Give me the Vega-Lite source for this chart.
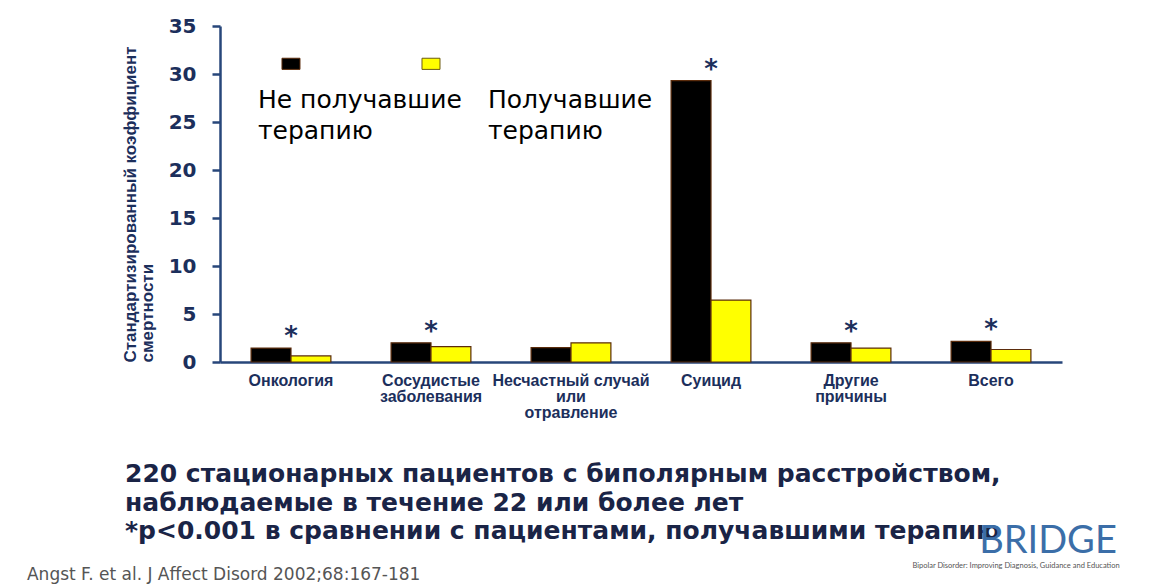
{
  "$schema": "https://vega.github.io/schema/vega-lite/v6.json",
  "width": 842,
  "height": 336,
  "autosize": {"type": "none"},
  "padding": {"left": 220, "top": 26, "right": 114, "bottom": 222},
  "background": "white",
  "config": {"view": {"stroke": null}},
  "datasets": {
    "bars": [
      {"category": "Онкология", "group": "Не получавшие терапию", "value": 1.45, "sig": true},
      {"category": "Онкология", "group": "Получавшие терапию", "value": 0.63, "sig": true},
      {"category": "Сосудистые заболевания", "group": "Не получавшие терапию", "value": 2.0, "sig": true},
      {"category": "Сосудистые заболевания", "group": "Получавшие терапию", "value": 1.6, "sig": true},
      {"category": "Несчастный случай или отравление", "group": "Не получавшие терапию", "value": 1.5, "sig": false},
      {"category": "Несчастный случай или отравление", "group": "Получавшие терапию", "value": 2.0, "sig": false},
      {"category": "Суицид", "group": "Не получавшие терапию", "value": 29.3, "sig": true},
      {"category": "Суицид", "group": "Получавшие терапию", "value": 6.45, "sig": true},
      {"category": "Другие причины", "group": "Не получавшие терапию", "value": 2.0, "sig": true},
      {"category": "Другие причины", "group": "Получавшие терапию", "value": 1.45, "sig": true},
      {"category": "Всего", "group": "Не получавшие терапию", "value": 2.15, "sig": true},
      {"category": "Всего", "group": "Получавшие терапию", "value": 1.3, "sig": true}
    ],
    "legend": [
      {"group": "Не получавшие терапию", "label": "Не получавшие\nтерапию"},
      {"group": "Получавшие терапию", "label": "Получавшие\nтерапию"}
    ],
    "notes": [
      {"note": "220 стационарных пациентов с биполярным расстройством,\nнаблюдаемые в течение 22 или более лет\n*p<0.001 в сравнении с пациентами, получавшими терапию"}
    ],
    "one": [{"row": 1}]
  },
  "data": {"name": "bars"},
  "layer": [
    {
      "mark": {"type": "bar", "stroke": "#5b2c0c", "strokeWidth": 1.2},
      "encoding": {
        "x": {
          "field": "category", "type": "nominal", "sort": null,
          "scale": {"paddingInner": 0.43, "paddingOuter": 0.222, "align": 0.5},
          "axis": {
            "title": null,
            "labelAngle": 0, "labelFont": "Liberation Sans", "labelFontSize": 16, "labelFontWeight": "bold",
            "labelColor": "#1c2f5c", "labelPadding": 10, "labelLineHeight": 16, "ticks": false,
            "labelLimit": 0, "labelOverlap": false,
            "domainColor": "#27467a", "domainWidth": 2.5,
            "labelExpr": "datum.label == 'Сосудистые заболевания' ? ['Сосудистые', 'заболевания'] : datum.label == 'Несчастный случай или отравление' ? ['Несчастный случай', 'или', 'отравление'] : datum.label == 'Другие причины' ? ['Другие', 'причины'] : datum.label"
          }
        },
        "xOffset": {"field": "group", "type": "nominal", "sort": null, "scale": {"paddingInner": 0, "paddingOuter": 0}},
        "y": {
          "field": "value", "type": "quantitative",
          "scale": {"domain": [0, 35], "nice": false},
          "axis": {
            "title": ["Стандартизированный коэффициент", "смертности"],
            "titleFont": "Liberation Sans", "titleFontSize": 17, "titleFontWeight": "bold", "titleColor": "#1c2f5c",
            "titleAnchor": "start", "titlePadding": 12, "titleLineHeight": 17,
            "values": [0, 5, 10, 15, 20, 25, 30, 35], "grid": false,
            "labelFont": "DejaVu Sans", "labelFontSize": 20, "labelFontWeight": "bold", "labelColor": "#1c2f5c",
            "labelPadding": 16, "tickSize": 8, "tickColor": "#27467a", "tickWidth": 2.5,
            "domainColor": "#27467a", "domainWidth": 2.5
          }
        },
        "color": {
          "field": "group", "type": "nominal",
          "scale": {"domain": ["Не получавшие терапию", "Получавшие терапию"], "range": ["#000000", "#ffff00"]},
          "legend": null
        }
      }
    },
    {
      "transform": [{"filter": "datum.sig && datum.group == 'Не получавшие терапию'"}],
      "mark": {"type": "text", "text": "*", "font": "DejaVu Sans", "fontSize": 26, "fontWeight": "bold", "color": "#1c2f5c", "baseline": "alphabetic", "dy": -3},
      "encoding": {
        "x": {"field": "category", "type": "nominal", "sort": null},
        "y": {"field": "value", "type": "quantitative"}
      }
    },
    {
      "data": {"name": "legend"},
      "transform": [{"filter": "datum.group == 'Не получавшие терапию'"}],
      "mark": {"type": "point", "shape": "M-1,-0.62H1V0.62H-1Z", "filled": true, "size": 324, "opacity": 1, "stroke": "#5b2c0c", "strokeWidth": 1, "dx": 1},
      "encoding": {
        "x": {"datum": "Онкология"},
        "y": {"datum": 31.06},
        "color": {"field": "group", "type": "nominal"}
      }
    },
    {
      "data": {"name": "legend"},
      "transform": [{"filter": "datum.group == 'Получавшие терапию'"}],
      "mark": {"type": "point", "shape": "M-1,-0.62H1V0.62H-1Z", "filled": true, "size": 324, "opacity": 1, "stroke": "#6b5a10", "strokeWidth": 1, "dx": 64},
      "encoding": {
        "x": {"datum": "Сосудистые заболевания"},
        "y": {"datum": 31.06},
        "color": {"field": "group", "type": "nominal"}
      }
    },
    {
      "data": {"name": "legend"},
      "transform": [{"filter": "datum.group == 'Не получавшие терапию'"}],
      "mark": {"type": "text", "font": "DejaVu Sans", "fontSize": 25, "color": "#000000", "align": "left", "baseline": "alphabetic", "lineBreak": "\n", "lineHeight": 31, "dx": -33},
      "encoding": {
        "x": {"datum": "Онкология"},
        "y": {"datum": 26.43},
        "text": {"field": "label"}
      }
    },
    {
      "data": {"name": "legend"},
      "transform": [{"filter": "datum.group == 'Получавшие терапию'"}],
      "mark": {"type": "text", "font": "DejaVu Sans", "fontSize": 25, "color": "#000000", "align": "left", "baseline": "alphabetic", "lineBreak": "\n", "lineHeight": 31, "dx": 57},
      "encoding": {
        "x": {"datum": "Сосудистые заболевания"},
        "y": {"datum": 26.43},
        "text": {"field": "label"}
      }
    },
    {
      "data": {"name": "notes"},
      "mark": {"type": "text", "font": "DejaVu Sans", "fontSize": 25, "fontWeight": "bold", "color": "#1a2446", "align": "left", "baseline": "alphabetic", "lineBreak": "\n", "lineHeight": 28.5, "dx": -166},
      "encoding": {
        "x": {"datum": "Онкология"},
        "y": {"datum": -12.5},
        "text": {"field": "note"}
      }
    },
    {
      "data": {"name": "one"},
      "mark": {"type": "text", "text": "Angst F. et al. J Affect Disord 2002;68:167-181", "font": "DejaVu Sans", "fontSize": 17, "color": "#555555", "align": "left", "baseline": "middle", "dx": -264},
      "encoding": {
        "x": {"datum": "Онкология"},
        "y": {"datum": -22.2}
      }
    },
    {
      "data": {"name": "one"},
      "mark": {"type": "text", "text": "BRIDGE", "font": "Lato", "fontSize": 38, "color": "#3b6ea8", "align": "center", "baseline": "middle", "dx": 57},
      "encoding": {
        "x": {"datum": "Всего"},
        "y": {"datum": -18.8}
      }
    },
    {
      "data": {"name": "one"},
      "mark": {"type": "text", "text": "Bipolar Disorder: Improving Diagnosis, Guidance and Education", "font": "Lato", "fontSize": 7.5, "color": "#555555", "align": "center", "baseline": "middle", "dx": 25},
      "encoding": {
        "x": {"datum": "Всего"},
        "y": {"datum": -21.2}
      }
    }
  ]
}
